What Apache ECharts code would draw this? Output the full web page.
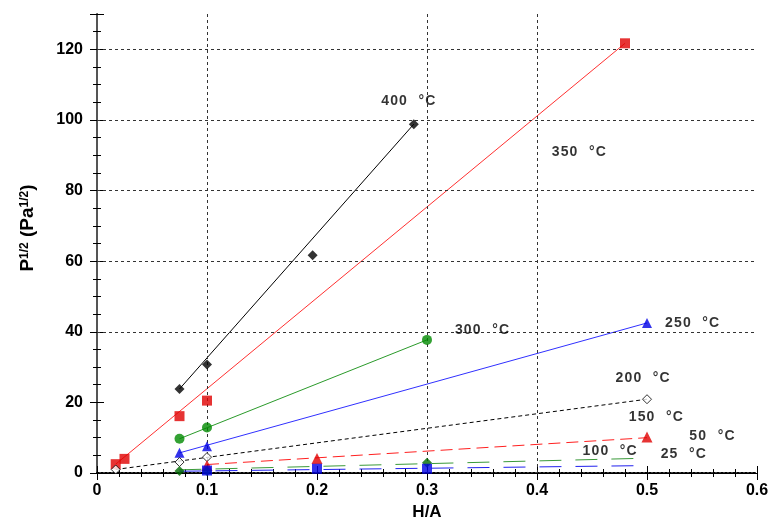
<!DOCTYPE html>
<html>
<head>
<meta charset="utf-8">
<script src="https://cdn.jsdelivr.net/npm/echarts@6/dist/echarts.min.js"></script>
<style>html,body{margin:0;padding:0;background:#fff}#c{width:770px;height:522px}</style>
</head>
<body>
<div id="c"></div>
<script>
// ---- data ----
const T400 = [[0.075,23.8],[0.1,30.7],[0.196,61.7],[0.288,98.8]];
const fit400 = [[0.075,23.8],[0.288,98.8]];
const T350 = [[0.017,2.5],[0.025,4.0],[0.075,16.1],[0.1,20.5],[0.48,121.7]];
const fit350 = [[0.017,2.5],[0.48,121.7]];
const T300 = [[0.075,9.7],[0.1,12.9],[0.3,37.7]];
const fit300 = [[0.075,9.7],[0.3,37.7]];
const T250 = [[0.075,5.7],[0.1,7.6],[0.5,42.5]];
const fit250 = [[0.075,5.7],[0.5,42.5]];
const T200 = [[0.017,1.0],[0.075,3.1],[0.1,4.5],[0.5,20.9]];
const fit200 = [[0.017,1.0],[0.5,20.9]];
const T150 = [[0.1,2.1],[0.2,4.1],[0.5,10.2]];
const fit150 = [[0.1,2.4],[0.5,10.0]];
const T100 = [[0.075,0.6],[0.1,0.6],[0.3,2.9]];
const fit100 = [[0.075,0.9],[0.5,4.2]];
const T25 = [[0.1,0.7],[0.2,1.2],[0.3,1.2]];
const fit25 = [[0.075,0.5],[0.5,2.1]];
const labels = [
  ['400 °C',0.283,105.2],['350 °C',0.438,90.9],['300 °C',0.35,40.6],
  ['250 °C',0.541,42.5],['200 °C',0.496,27.0],['150 °C',0.508,15.9],
  ['50 °C',0.559,10.4],['100 °C',0.466,6.1],['25 °C',0.533,5.2]
];
const gridX = [0.1,0.3,0.4];
const gridY = [40,60,80,100,120];
const xMin=0, xMax=0.6, xStep=0.1;
const yMin=0, yMax=130, yStep=20;

const FONT = '"Liberation Sans", Arial, sans-serif';
const chart = echarts.init(document.getElementById('c'), null, {renderer:'canvas'});

function fitLine(data, color, type, width){
  return {type:'line', data:data, showSymbol:false, symbol:'none', silent:true,
    lineStyle:{color:color, width:width||1, type:type||'solid'}, z:2, animation:false};
}
function pts(data, symbol, size, color, border){
  return {type:'scatter', data:data, symbol:symbol, symbolSize:size, z:5, animation:false,
    itemStyle:{color:color, borderColor:border||color, borderWidth:border?1:0}};
}
function spaced(name){
  const parts = name.split(' ');
  return parts[0].split('').join('\u200A') + '\u00A0\u00A0\u00A0' + '°\u200AC';
}

const axisCommon = {
  axisLine:{show:true, lineStyle:{color:'#000', width:1}},
  axisTick:{show:true, inside:true, length:7, lineStyle:{color:'#000'}},
  splitLine:{show:false}
};

const option = {
  backgroundColor:'#fff',
  animation:false,
  grid:{left:97, right:13, top:14, bottom:49, containLabel:false, outerBoundsMode:'none'},
  xAxis:[
    Object.assign({}, axisCommon, {type:'value', min:xMin, max:xMax, interval:xStep, position:'bottom',
      axisLine:{show:true, lineStyle:{color:'#000', width:2, type:'dotted'}},
      minorTick:{show:true, splitNumber:5, length:4, lineStyle:{color:'#000'}},
      axisLabel:{fontFamily:FONT, fontSize:16, fontWeight:'bold', color:'#000', margin:10},
      name:'H/A', nameLocation:'middle', nameGap:30,
      nameTextStyle:{fontFamily:FONT, fontSize:17, fontWeight:'bold', color:'#000'}}),
    Object.assign({}, axisCommon, {type:'value', min:xMin, max:xMax, interval:xStep, position:'top',
      minorTick:{show:true, splitNumber:5, length:4, lineStyle:{color:'#000'}},
      axisLabel:{show:false}})
  ],
  yAxis:[
    Object.assign({}, axisCommon, {type:'value', min:yMin, max:yMax, interval:yStep, position:'left',
      minorTick:{show:true, splitNumber:4, length:4, lineStyle:{color:'#000'}},
      axisLabel:{fontFamily:FONT, fontSize:16, fontWeight:'bold', color:'#000', margin:14, showMaxLabel:false,
        formatter:function(v){ return v > 120 ? '' : String(v); }}}),
    Object.assign({}, axisCommon, {type:'value', min:yMin, max:yMax, interval:yStep, position:'right',
      axisLine:{show:true, lineStyle:{color:'#555', width:2}},
      minorTick:{show:true, splitNumber:4, length:4, lineStyle:{color:'#000'}},
      axisLabel:{show:false}})
  ],
  graphic:[{
    type:'text', x:28, y:228, rotation:Math.PI/2, z:100,
    style:{
      text:'{b|P}{s|1/2}{b| (Pa}{s|1/2}{b|)}',
      align:'center', verticalAlign:'middle',
      rich:{
        b:{fontFamily:FONT, fontSize:19, fontWeight:'bold', fill:'#000', lineHeight:19, verticalAlign:'middle'},
        s:{fontFamily:FONT, fontSize:12, fontWeight:'bold', fill:'#000', lineHeight:19, verticalAlign:'top'}
      }
    }
  }],
  series:[
    {type:'line', data:[], silent:true, animation:false,
      markLine:{silent:true, symbol:['none','none'], animation:false,
        label:{show:false},
        lineStyle:{color:'#333', type:[3,3], width:1},
        data: gridX.map(v=>({xAxis:v})).concat(gridY.map(v=>({yAxis:v})))}},
    fitLine(fit400,'#000','solid'),
    fitLine(fit350,'#ff3030','solid'),
    fitLine(fit300,'#2a9a2a','solid'),
    fitLine(fit250,'#3030ff','solid'),
    fitLine(fit200,'#000',[4,3]),
    fitLine(fit150,'#ff2020',[12,6]),
    fitLine(fit100,'#3a9a3a',[22,14]),
    fitLine(fit25,'#2020ee',[22,14]),
    pts(T400,'diamond',10,'#000'),
    pts(T350,'rect',10,'#e00000'),
    pts(T300,'circle',10,'#008a00'),
    pts(T250,'triangle',10,'#0000e6'),
    pts(T200,'diamond',9,'#fff','#000'),
    pts(T150,'triangle',11,'#e00000'),
    pts(T100,'diamond',10,'#006a00'),
    pts(T25,'rect',10,'#0000e6'),
    {type:'scatter', data:labels.map(l=>({name:l[0], value:[l[1],l[2]]})), symbolSize:0, silent:true, z:10,
      label:{show:true, position:'inside', formatter:function(p){ return spaced(p.name); },
        fontFamily:FONT, fontSize:14, fontWeight:'bold', color:'#000'}}
  ]
};
chart.setOption(option);
</script>
</body>
</html>
